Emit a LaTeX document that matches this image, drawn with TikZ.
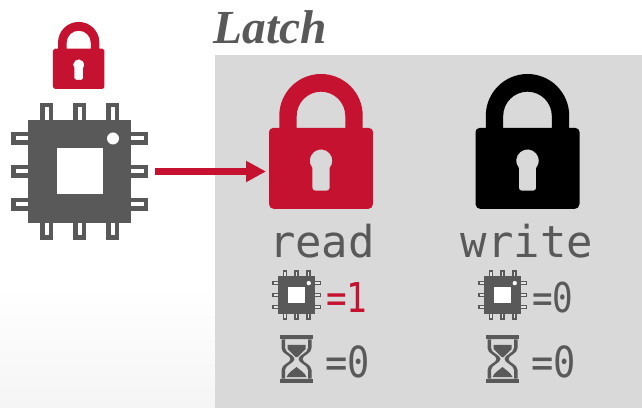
\documentclass[tikz,border=0pt]{standalone}
\usepackage{fontspec}
\setmainfont{Liberation Serif}
\setmonofont{DejaVu Sans Mono}
\usetikzlibrary{arrows.meta}
\definecolor{cmured}{HTML}{C41230}
\definecolor{darkgray}{HTML}{595959}
\definecolor{panelgray}{HTML}{D9D9D9}
\tikzset{
    lock/.pic = {
        \fill[even odd rule,pic actions]
            (-41.7,0) -- (-41.7,-12.3) arc (180:360:41.7) -- (41.7,0) -- (48,0)
            arc (-90:0:4) -- (52,76) arc (0:90:5) -- (-47,81) arc (90:180:5)
            -- (-52,4) arc (180:270:4) -- cycle
            (-24.3,0) -- (-24.3,-12) arc (180:360:24.3) -- (24.3,0) -- cycle
            (-8.7,39.9) arc (140.4:399.6:11.3) -- (8.7,59.7) arc (0:90:3)
            -- (-5.7,62.7) arc (90:180:3) -- cycle;
    },
    pics/chip/.default = white,
    pics/chip/.style = {code = {
        \foreach \p in {-33,0,33} {
            \fill[chipcolor] (\p-6.2,-68.5) rectangle (\p+6.2,-48);
            \fill[#1] (\p-2,-64) rectangle (\p+2,-51.5);
            \fill[chipcolor] (\p-6.2,48) rectangle (\p+6.2,68.5);
            \fill[#1] (\p-2,51.5) rectangle (\p+2,64);
            \fill[chipcolor] (-68.5,\p-6.2) rectangle (-48,\p+6.2);
            \fill[#1] (-64,\p-2) rectangle (-51.5,\p+2);
            \fill[chipcolor] (48,\p-6.2) rectangle (68.5,\p+6.2);
            \fill[#1] (51.5,\p-2) rectangle (64,\p+2);
        }
        \fill[chipcolor] (-51.5,-51.5) rectangle (51.5,51.5);
        \fill[white] (-23,-23) rectangle (23,23);
        \fill[white] (33.5,-33) circle (6);
    }},
    hourglass/.pic = {
        \fill[darkgray] (-16.5,-24) rectangle (16.5,-19.5);
        \fill[darkgray] (-16.5,19.5) rectangle (16.5,24);
        \fill[darkgray,even odd rule]
            (-15,-19.5) -- (-15,-11) .. controls (-15,-5) and (-6,-4) .. (-6,0)
            .. controls (-6,4) and (-15,5) .. (-15,11) -- (-15,19.5) -- (15,19.5) -- (15,11)
            .. controls (15,5) and (6,4) .. (6,0) .. controls (6,-4) and (15,-5) .. (15,-11)
            -- (15,-19.5) -- cycle
            (-11.5,-19.5) -- (-11.5,-11) .. controls (-11.5,-6) and (-2,-4) .. (-2,0)
            .. controls (-2,4) and (-11.5,6) .. (-11.5,11) -- (-11.5,19.5) -- (11.5,19.5) -- (11.5,11)
            .. controls (11.5,6) and (2,4) .. (2,0) .. controls (2,-4) and (11.5,-6) .. (11.5,-11)
            -- (11.5,-19.5) -- cycle;
        \fill[darkgray] (-9,-14) -- (9,-14) -- (9,-10) -- (1,-2) -- (-1,-2) -- (-9,-10) -- cycle;
        \fill[darkgray] (-10,18) .. controls (-8,13) and (-3,11) .. (0,8)
            .. controls (3,11) and (8,13) .. (10,18) -- cycle;
    },
    chipcolor/.style = {darkgray},
    locktext/.style = {font=\ttfamily\fontsize{25}{25}\selectfont,text=darkgray,inner sep=0pt},
    statetext/.style = {font=\ttfamily\fontsize{19.5}{20}\selectfont,text=darkgray,inner sep=0pt,anchor=west},
    hitarrow/.style = {draw=cmured,line width=0.134cm,-{Triangle[length=0.4cm,width=0.4cm]}}
}
\begin{document}
\begin{tikzpicture}[x=0.02cm,y=-0.02cm]
\useasboundingbox (0,0) rectangle (642,408);
\shade[top color=white,bottom color=black!4] (0,285) rectangle (215,408);
\fill[panelgray] (215,55) rectangle (642,408);

\node[font=\bfseries\itshape\fontsize{27}{27}\selectfont,text=darkgray,inner sep=0pt] (latch) at (270,27) {Latch};

\pic[fill=cmured,scale=0.496] at (78.7,48.7) {lock};
\pic at (79.5,171.5) {chip};

\pic[fill=cmured] at (321,128) {lock};
\pic[fill=black] at (527.5,128) {lock};

\node[locktext] (readlabel) at (322,241) {read};
\node[locktext] (writelabel) at (527,241) {write};

\pic[scale=0.36] at (296.7,295) {chip=black!10};
\pic[scale=0.36] at (502.7,295) {chip=black!10};
\node[statetext,text=cmured] (readheld) at (326,298) {\scalebox{1}[1.2]{=1}};
\node[statetext] (writeheld) at (532,298) {\scalebox{1}[1.2]{=0}};

\pic at (296.5,359) {hourglass};
\pic at (502.5,359) {hourglass};
\node[statetext] (readwait) at (325,362) {\scalebox{1.08}[1.25]{=0}};
\node[statetext] (writewait) at (531,362) {\scalebox{1.08}[1.25]{=0}};

\coordinate (cpuout) at (155,171.5);
\coordinate (readin) at (266,171.5);
\draw[hitarrow] (cpuout) -- (readin);
\end{tikzpicture}
\end{document}
